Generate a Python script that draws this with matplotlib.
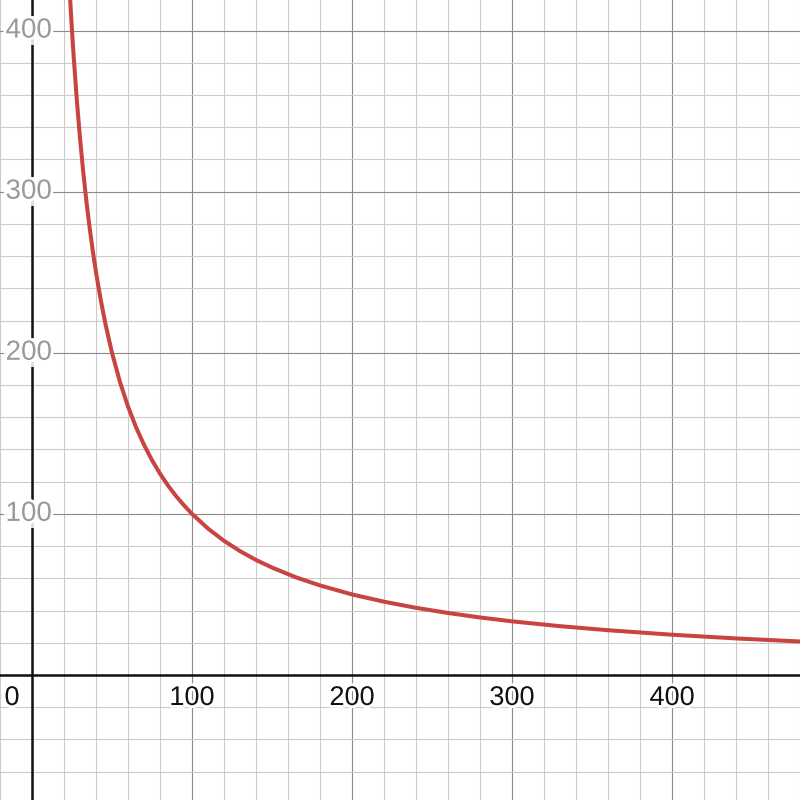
import matplotlib
matplotlib.use('Agg')
import matplotlib.pyplot as plt
import matplotlib.patheffects as pe
import numpy as np

# points
curve_x = [22, 23, 24, 25, 26, 28, 30, 32, 34, 36, 38, 40, 43, 46, 50, 55, 60,
           65, 70, 75, 80, 85, 90, 95, 100, 110, 120, 130, 140, 150, 165, 180,
           200, 220, 240, 260, 280, 300, 330, 360, 400, 440, 480]
curve_y = [454.5, 434.8, 416.7, 400.0, 384.6, 357.1, 333.3, 312.5, 294.1, 277.8,
           263.2, 250.0, 232.6, 217.4, 200.0, 181.8, 166.7, 153.8, 142.9, 133.3,
           125.0, 117.6, 111.1, 105.3, 100.0, 90.9, 83.3, 76.9, 71.4, 66.7, 60.6,
           55.6, 50.0, 45.5, 41.7, 38.5, 35.7, 33.3, 30.3, 27.8, 25.0, 22.7, 20.8]

x_ticks = [0, 100, 200, 300, 400]
y_ticks = [100, 200, 300, 400]

plt.rcParams['font.family'] = ['Liberation Sans', 'DejaVu Sans']

fig = plt.figure(figsize=(8, 8), dpi=100)
ax = fig.add_axes([0, 0, 1, 1])
ax.set_xlim(-20, 480)
ax.set_ylim(-77.6, 419)

# grid: minor every 20, major every 100
for gx in np.arange(-20, 481, 20):
    major = gx % 100 == 0
    ax.axvline(gx, color='#8a8a8a' if major else '#cbcbcb', lw=0.8, zorder=1)
for gy in np.arange(-60, 420, 20):
    major = gy % 100 == 0
    ax.axhline(gy, color='#8a8a8a' if major else '#cbcbcb', lw=0.8, zorder=1)

ax.axhline(0, color='#111111', lw=1.8, zorder=2)
ax.axvline(0, color='#111111', lw=1.8, zorder=2)

ax.plot(curve_x, curve_y, color='#c74440', lw=2.9, zorder=4,
        solid_capstyle='round', solid_joinstyle='round')

halo = [pe.withStroke(linewidth=4, foreground='white')]
for t in x_ticks:
    xpos = -12.5 if t == 0 else t
    ax.text(xpos, -14.3, str(t), ha='center', va='center', fontsize=19.5,
            color='#111111', path_effects=halo, zorder=5)

for t in y_ticks:
    ax.text(12.5, t, str(t), ha='right', va='center', fontsize=20,
            color='#999999', path_effects=halo, zorder=5,
            bbox=dict(boxstyle='square,pad=0.05', fc='white', ec='none', alpha=0.85))

ax.set_xticks([])
ax.set_yticks([])
for s in ax.spines.values():
    s.set_visible(False)

fig.savefig('out.png', dpi=100)
